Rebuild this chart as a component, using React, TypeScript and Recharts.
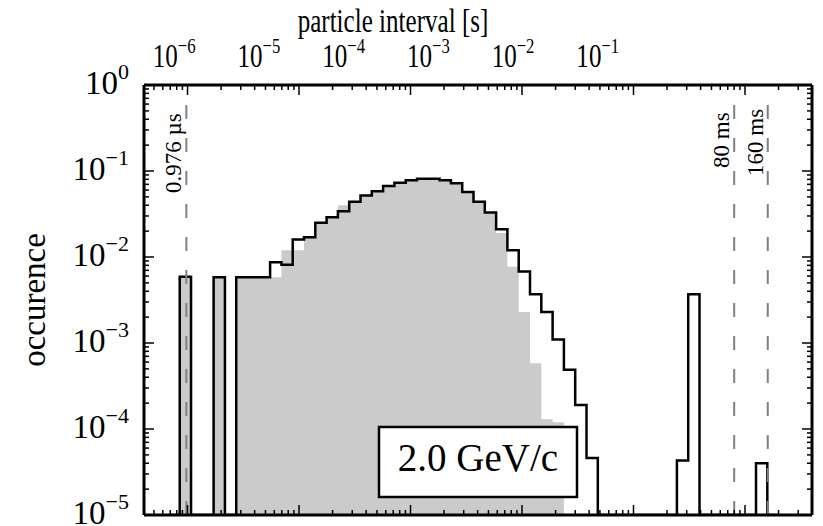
import { Area, ComposedChart, Line, ReferenceLine, XAxis, YAxis } from 'recharts'

// left edges of the log-spaced bins in seconds; the last entry closes the last bin
const BIN_EDGES = [
  6.74e-7, 8.51e-7, 1.075e-6, 1.357e-6, 1.714e-6, 2.165e-6, 2.733e-6, 3.452e-6,
  4.359e-6, 5.504e-6, 6.951e-6, 8.778e-6, 1.1085e-5, 1.3998e-5, 1.7678e-5, 2.2322e-5,
  2.819e-5, 3.56e-5, 4.495e-5, 5.677e-5, 7.169e-5, 9.057e-5, 1.1436e-4, 1.4443e-4,
  1.8239e-4, 2.3033e-4, 2.9086e-4, 3.6731e-4, 4.6385e-4, 5.8576e-4, 7.397e-4, 9.343e-4,
  1.1796e-3, 1.4898e-3, 1.8813e-3, 2.3758e-3, 3.0002e-3, 3.7888e-3, 4.7846e-3, 6.0422e-3,
  7.6302e-3, 9.6383e-3, 1.2171e-2, 1.537e-2, 1.941e-2, 2.4512e-2, 3.0955e-2, 3.909e-2,
  4.9366e-2, 6.2341e-2, 7.8727e-2, 9.9425e-2, 0.12556, 0.15855, 0.20024,
]

// black outline histogram (null = empty bin)
const OCCURENCE_ALL = [
  null, 5.9e-3, null, null, 5.8e-3, null, 5.8e-3, 5.8e-3,
  5.8e-3, 8.7e-3, 8.1e-3, 1.6e-2, 1.7e-2, 2.5e-2, 2.9e-2, 3.4e-2,
  4.4e-2, 5.2e-2, 5.8e-2, 6.7e-2, 7.3e-2, 7.8e-2, 8.1e-2, 8.1e-2,
  7.8e-2, 7.2e-2, 5.7e-2, 4.4e-2, 3.3e-2, 2.1e-2, 1.2e-2, 6.8e-3,
  3.7e-3, 2.3e-3, 1.1e-3, 4.9e-4, 1.9e-4, 4.6e-5, null, null,
  null, null, null, null, null, 4.3e-5, 3.7e-3, null,
  null, null, null, null, 4.0e-5, null,
]

// grey filled histogram
const OCCURENCE_SEL = [
  null, 5.9e-3, null, null, 5.8e-3, null, 5.8e-3, 5.8e-3,
  5.8e-3, 5.8e-3, 1.2e-2, 1.2e-2, 1.7e-2, 2.5e-2, 2.9e-2, 4.0e-2,
  4.4e-2, 5.2e-2, 5.8e-2, 6.7e-2, 7.3e-2, 7.8e-2, 8.1e-2, 8.1e-2,
  7.8e-2, 7.2e-2, 5.7e-2, 4.4e-2, 3.3e-2, 1.9e-2, 7.7e-3, 2.3e-3,
  5.8e-4, 1.3e-4, 1.2e-4, null, null, null, null, null,
  null, null, null, null, null, null, null, null,
  null, null, null, null, null, null,
]

const MARKER_TIMES = [0.976e-6, 80e-3, 160e-3]
const MARKER_LABELS = ['0.976 µs', '80 ms', '160 ms']
const MOMENTUM_LABEL = '2.0 GeV/c'

const X_DOMAIN = [4.07e-7, 0.399]
const Y_MIN = 1e-5
const Y_DOMAIN = [Y_MIN, 1]

const FONT = '"Liberation Serif", "DejaVu Serif", serif'
const GREY = '#cbcbcb'
// the top labels / title are drawn horizontally squeezed, like in the original
const SQ_C = 131.6
const SQ_S = 0.76
const MARKER_LABEL_Y = [193, 168, 176]

function logTicks(min: number, max: number) {
  const out: number[] = []
  for (let d = Math.floor(Math.log10(min)); d <= Math.ceil(Math.log10(max)); d++) {
    for (let m = 1; m < 10; m++) {
      const v = m * Math.pow(10, d)
      if (v >= min && v <= max) out.push(v)
    }
  }
  return out
}

const X_TICKS = logTicks(X_DOMAIN[0], X_DOMAIN[1])
const Y_TICKS = logTicks(Y_DOMAIN[0], Y_DOMAIN[1])

const isMajor = (v: number) => Math.abs(Math.log10(v) - Math.round(Math.log10(v))) < 1e-6
const expText = (v: number) => {
  const e = Math.round(Math.log10(v))
  return e < 0 ? `\u2212${-e}` : `${e}`
}

const tickLen = (v: number) => (isMajor(v) ? 10 : 5)

function BottomTick(p: any) {
  const { x, y, payload } = p
  return <line x1={x} x2={x} y1={y} y2={y - tickLen(payload.value)} stroke="#000" strokeWidth={1.5} />
}

function TopTick(p: any) {
  const { x, y, payload } = p
  const lx = SQ_C + SQ_S * (x - SQ_C)
  return (
    <g>
      <line x1={x} x2={x} y1={y} y2={y + tickLen(payload.value)} stroke="#000" strokeWidth={1.5} />
      {isMajor(payload.value) && (
        <text
          transform={`translate(${lx},67) scale(${SQ_S},1)`}
          textAnchor="middle"
          fontFamily={FONT}
          fontSize={33}
          fill="#000"
        >
          10
          <tspan dy={-14} fontSize={22}>
            {expText(payload.value)}
          </tspan>
        </text>
      )}
    </g>
  )
}

function LeftTick(p: any) {
  const { x, y, payload } = p
  return (
    <g>
      <line x1={x} x2={x + tickLen(payload.value)} y1={y} y2={y} stroke="#000" strokeWidth={1.5} />
      {isMajor(payload.value) && (
        <text x={129} y={y + 9} textAnchor="end" fontFamily={FONT} fontSize={33} fill="#000">
          10
          <tspan dy={-15} fontSize={22}>
            {expText(payload.value)}
          </tspan>
        </text>
      )}
    </g>
  )
}

function RightTick(p: any) {
  const { x, y, payload } = p
  return <line x1={x} x2={x - tickLen(payload.value)} y1={y} y2={y} stroke="#000" strokeWidth={1.5} />
}

function markerLabel(text: string, bottom: number) {
  return (props: any) => {
    const x = props.viewBox?.x ?? 0
    return (
      <text
        transform={`translate(${x - 5},${bottom}) rotate(-90)`}
        fontFamily={FONT}
        fontSize={23}
        fill="#000"
      >
        {text}
      </text>
    )
  }
}

const chartData = BIN_EDGES.map((t, i) => ({
  t,
  all: OCCURENCE_ALL[i] ?? Y_MIN,
  sel: OCCURENCE_SEL[i] ?? Y_MIN,
}))

const frame = { stroke: '#000', strokeWidth: 3 }

export default function App() {
  return (
    <div style={{ position: 'absolute', left: 0, top: 0, width: 823, height: 526, background: '#fff' }}>
      <ComposedChart width={823} height={526} data={chartData} margin={{ top: 0, right: 0, bottom: 0, left: 0 }}>
        <XAxis
          xAxisId="b"
          dataKey="t"
          type="number"
          scale="log"
          domain={X_DOMAIN}
          allowDataOverflow
          ticks={X_TICKS}
          interval={0}
          tick={BottomTick}
          tickLine={false}
          tickSize={0}
          tickMargin={0}
          axisLine={frame}
          height={11}
        />
        <XAxis
          xAxisId="t"
          orientation="top"
          dataKey="t"
          type="number"
          scale="log"
          domain={X_DOMAIN}
          allowDataOverflow
          ticks={X_TICKS}
          interval={0}
          tick={TopTick}
          tickLine={false}
          tickSize={0}
          tickMargin={0}
          axisLine={frame}
          height={85}
        />
        <YAxis
          yAxisId="l"
          type="number"
          scale="log"
          domain={Y_DOMAIN}
          allowDataOverflow
          ticks={Y_TICKS}
          interval={0}
          tick={LeftTick}
          tickLine={false}
          tickSize={0}
          tickMargin={0}
          axisLine={frame}
          width={144}
        />
        <YAxis
          yAxisId="r"
          orientation="right"
          type="number"
          scale="log"
          domain={Y_DOMAIN}
          allowDataOverflow
          ticks={Y_TICKS}
          interval={0}
          tick={RightTick}
          tickLine={false}
          tickSize={0}
          tickMargin={0}
          axisLine={frame}
          width={11}
        />
        <Area
          xAxisId="b"
          yAxisId="l"
          dataKey="sel"
          type="stepAfter"
          fill={GREY}
          fillOpacity={1}
          stroke="none"
          baseValue={Y_MIN}
          isAnimationActive={false}
        />
        <Line
          xAxisId="b"
          yAxisId="l"
          dataKey="all"
          type="stepAfter"
          stroke="#000"
          strokeWidth={2.5}
          dot={false}
          activeDot={false}
          isAnimationActive={false}
        />
        {MARKER_TIMES.map((t, i) => (
          <ReferenceLine
            key={MARKER_LABELS[i]}
            xAxisId="b"
            yAxisId="l"
            x={t}
            stroke="#808080"
            strokeWidth={2}
            strokeDasharray="14 19"
            label={markerLabel(MARKER_LABELS[i], MARKER_LABEL_Y[i])}
          />
        ))}
        <text
          transform={`translate(393,32) scale(${SQ_S},1)`}
          textAnchor="middle"
          fontFamily={FONT}
          fontSize={33}
          fill="#000"
        >
          particle interval [s]
        </text>
        <text
          transform="translate(45,300) rotate(-90)"
          textAnchor="middle"
          fontFamily={FONT}
          fontSize={33}
          fill="#000"
        >
          occurence
        </text>
      </ComposedChart>
      {/* annotation box sits above the histograms */}
      <svg
        width={823}
        height={526}
        style={{ position: 'absolute', left: 0, top: 0, pointerEvents: 'none' }}
      >
        <rect x={379} y={427} width={198} height={70} fill="#fff" stroke="#000" strokeWidth={2.5} />
        <text x={478} y={471} textAnchor="middle" fontFamily={FONT} fontSize={39} fill="#000">
          {MOMENTUM_LABEL}
        </text>
      </svg>
    </div>
  )
}
